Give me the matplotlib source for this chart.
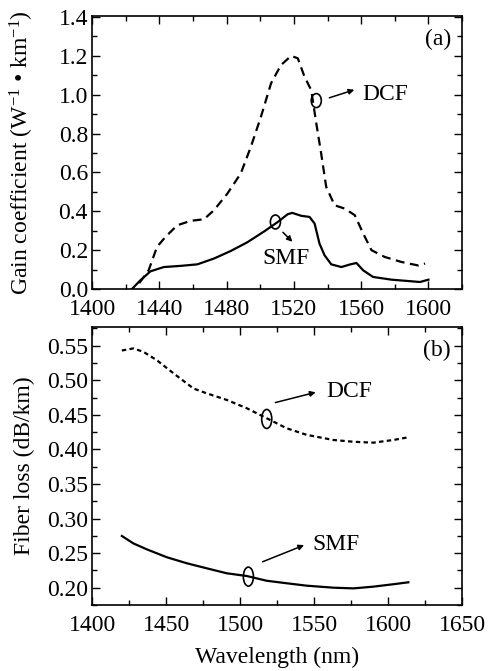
import matplotlib
matplotlib.use("Agg")
import matplotlib.pyplot as plt
from matplotlib.patches import Ellipse
from matplotlib.ticker import MultipleLocator, FormatStrFormatter

plt.rcParams['font.family'] = ['Liberation Serif', 'DejaVu Serif']
plt.rcParams['mathtext.fontset'] = 'custom'
plt.rcParams['mathtext.rm'] = 'Liberation Serif'
plt.rcParams['mathtext.it'] = 'Liberation Serif:italic'

# ---- Panel (a): Raman gain coefficient ----
smf_gain_wl = [1423.7, 1428.7, 1434.7, 1442.6, 1452.6, 1462.6, 1472.5, 1482.5, 1492.4,
               1502.4, 1510.4, 1516.3, 1519.0, 1524.3, 1529.3, 1532.3, 1535.2, 1538.2,
               1542.2, 1548.2, 1553.2, 1557.2, 1561.2, 1567.1, 1578.1, 1588.0, 1595.0,
               1600.0]
smf_gain = [0.0, 0.045, 0.091, 0.113, 0.119, 0.127, 0.157, 0.196, 0.241,
            0.297, 0.345, 0.385, 0.392, 0.377, 0.371, 0.337, 0.234, 0.174,
            0.127, 0.113, 0.126, 0.134, 0.096, 0.062, 0.048, 0.041, 0.036,
            0.048]

dcf_gain_wl = [1428.0, 1433.6, 1438.6, 1443.6, 1450.6, 1458.6, 1466.5, 1472.5, 1480.5,
               1488.4, 1494.4, 1500.4, 1506.4, 1512.3, 1518.3, 1522.3, 1526.3, 1530.3,
               1533.3, 1536.2, 1539.2, 1544.2, 1550.2, 1556.2, 1561.2, 1566.1, 1574.0,
               1584.0, 1594.0, 1598.0]
dcf_gain = [0.03, 0.096, 0.217, 0.268, 0.328, 0.351, 0.359, 0.406, 0.492,
            0.595, 0.732, 0.887, 1.059, 1.153, 1.20, 1.188, 1.093, 1.024,
            0.853, 0.698, 0.526, 0.431, 0.414, 0.38, 0.286, 0.20, 0.165,
            0.139, 0.121, 0.131]

# ---- Panel (b): fiber loss ----
dcf_loss_wl = [1420.1, 1427.9, 1434.7, 1443.7, 1455.0, 1468.5, 1477.5, 1491.0, 1504.5,
               1518.0, 1531.5, 1545.0, 1563.0, 1576.6, 1590.0, 1603.6, 1613.7]
dcf_loss = [0.543, 0.546, 0.541, 0.529, 0.510, 0.488, 0.481, 0.4715, 0.4595,
            0.445, 0.4305, 0.421, 0.4136, 0.411, 0.4097, 0.4136, 0.4175]

smf_loss_wl = [1420.1, 1427.9, 1436.9, 1450.5, 1464.0, 1477.5, 1491.0, 1504.5, 1518.0,
               1531.5, 1545.0, 1563.0, 1576.6, 1590.0, 1603.6, 1613.7]
smf_loss = [0.2748, 0.264, 0.2555, 0.244, 0.2353, 0.228, 0.2208, 0.2169, 0.210,
            0.2064, 0.2029, 0.200, 0.199, 0.2015, 0.205, 0.2078]

fig = plt.figure(figsize=(4.9, 6.71), dpi=100)
ax1 = fig.add_axes([0.188, 0.5693, 0.755, 0.4067])
ax2 = fig.add_axes([0.188, 0.0984, 0.755, 0.4143])

FS = 17

def style(ax):
    ax.tick_params(which='both', direction='in', top=True, right=True, labelsize=FS,
                   width=1.0)
    ax.tick_params(which='major', length=6, pad=3)
    ax.tick_params(which='minor', length=3.5)
    ax.tick_params(axis='x', pad=7)
    for s in ax.spines.values():
        s.set_linewidth(1.2)

# Panel (a)
ax1.plot(smf_gain_wl, smf_gain, color='black', lw=1.6, ls='-')
ax1.plot(dcf_gain_wl, dcf_gain, color='black', lw=1.6, ls=(0, (4, 2.5)))
ax1.set_xlim(1400, 1620)
ax1.set_ylim(0, 1.405)
ax1.xaxis.set_major_locator(MultipleLocator(40))
ax1.xaxis.set_minor_locator(MultipleLocator(20))
ax1.yaxis.set_major_locator(MultipleLocator(0.2))
ax1.yaxis.set_minor_locator(MultipleLocator(0.1))
ax1.yaxis.set_major_formatter(FormatStrFormatter('%.1f'))
style(ax1)
ax1.set_ylabel('Gain coefficient (W$^{-1}$ • km$^{-1}$)', fontsize=FS)
ax1.yaxis.set_label_coords(-0.153, 0.5)
ax1.text(0.97, 0.955, '(a)', transform=ax1.transAxes, ha='right', va='top', fontsize=FS)

ax1.add_patch(Ellipse((1533.3, 0.97), 6.0, 0.072, fill=False, lw=1.2, ec='black'))
ax1.annotate('', xy=(1557.5, 1.03), xytext=(1539.5, 0.98),
             arrowprops=dict(arrowstyle='-|>', color='black', lw=1.1, mutation_scale=8))
ax1.text(1560.5, 1.0, 'DCF', fontsize=FS, ha='left', va='center')

ax1.add_patch(Ellipse((1509, 0.345), 6.0, 0.072, fill=False, lw=1.2, ec='black'))
ax1.annotate('', xy=(1520.3, 0.233), xytext=(1512.3, 0.302),
             arrowprops=dict(arrowstyle='-|>', color='black', lw=1.1, mutation_scale=8))
ax1.text(1515.3, 0.155, 'SMF', fontsize=FS, ha='center', va='center')

# Panel (b)
ax2.plot(dcf_loss_wl, dcf_loss, color='black', lw=1.6, ls=(0, (2, 1.5)))
ax2.plot(smf_loss_wl, smf_loss, color='black', lw=1.6, ls='-')
ax2.set_xlim(1400, 1650)
ax2.set_ylim(0.175, 0.577)
ax2.xaxis.set_major_locator(MultipleLocator(50))
ax2.xaxis.set_minor_locator(MultipleLocator(25))
ax2.yaxis.set_major_locator(MultipleLocator(0.05))
ax2.yaxis.set_minor_locator(MultipleLocator(0.025))
ax2.yaxis.set_major_formatter(FormatStrFormatter('%.2f'))
style(ax2)
ax2.set_ylabel('Fiber loss (dB/km)', fontsize=FS)
ax2.yaxis.set_label_coords(-0.153, 0.5)
ax2.set_xlabel('Wavelength (nm)', fontsize=FS, labelpad=8)
ax2.text(0.97, 0.955, '(b)', transform=ax2.transAxes, ha='right', va='top', fontsize=FS)

ax2.add_patch(Ellipse((1518, 0.444), 6.8, 0.0275, fill=False, lw=1.2, ec='black'))
ax2.annotate('', xy=(1552.9, 0.4835), xytext=(1522, 0.4667),
             arrowprops=dict(arrowstyle='-|>', color='black', lw=1.1, mutation_scale=8))
ax2.text(1558, 0.4835, 'DCF', fontsize=FS, ha='left', va='center')

ax2.add_patch(Ellipse((1505.6, 0.216), 6.8, 0.0275, fill=False, lw=1.2, ec='black'))
ax2.annotate('', xy=(1545, 0.263), xytext=(1513.5, 0.236),
             arrowprops=dict(arrowstyle='-|>', color='black', lw=1.1, mutation_scale=8))
ax2.text(1549, 0.262, 'SMF', fontsize=FS, ha='left', va='center')

fig.savefig('out.png', dpi=100)
